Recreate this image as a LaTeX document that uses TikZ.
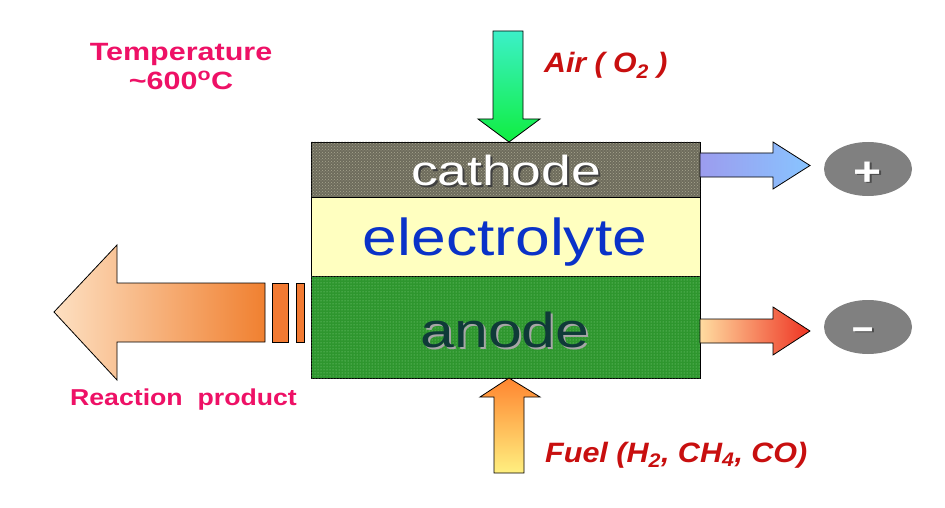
\documentclass[tikz,border=0pt]{standalone}
\usepackage{fontspec}
\usepackage{graphicx}
\setmainfont{Liberation Sans}
\usetikzlibrary{patterns,shapes.geometric}
\newcommand{\wide}[2][1.2]{\scalebox{#1}[1]{#2}}
\definecolor{cathodecol}{HTML}{6E6C5C}
\definecolor{cathodedot}{HTML}{A8A690}
\definecolor{anodecol}{HTML}{2E962E}
\definecolor{anodedot}{HTML}{8FD88F}
\definecolor{electrocol}{HTML}{FFFFC0}
\definecolor{electrotext}{HTML}{0A32C8}
\definecolor{anodetext}{HTML}{0F3A38}
\definecolor{pinktext}{HTML}{EE1166}
\definecolor{redtext}{HTML}{C80F0F}
\definecolor{aircyan}{HTML}{3CF0C8}
\definecolor{airgreen}{HTML}{10EE40}
\definecolor{fuelorange}{HTML}{FF8530}
\definecolor{fuelyellow}{HTML}{FFF080}
\definecolor{catleft}{HTML}{9C9CEE}
\definecolor{catright}{HTML}{88C4FF}
\definecolor{anleft}{HTML}{FFDCA0}
\definecolor{anright}{HTML}{EE3322}
\definecolor{prodleft}{HTML}{FDE0C2}
\definecolor{prodright}{HTML}{F08030}
\definecolor{barcol}{HTML}{F27A32}
\definecolor{polegray}{HTML}{808080}
\tikzset{
  layer/.style={draw=black, line width=0.9pt, inner sep=0pt, minimum width=389pt},
  flow/.style={draw=black, line width=0.8pt, line join=miter},
  pole/.style={ellipse, fill=polegray, minimum width=88pt, minimum height=54pt, inner sep=0pt},
  label/.style={inner sep=0pt, font=\bfseries\fontsize{25}{30}\selectfont, text=pinktext},
  feed/.style={inner sep=0pt, font=\bfseries\itshape\fontsize{28}{32}\selectfont, text=redtext},
  sign/.style={inner sep=0pt, anchor=base, font=\bfseries\fontsize{40}{44}\selectfont}
}
\begin{document}
\begin{tikzpicture}[x=1pt,y=-1pt]
\useasboundingbox (0,0) rectangle (945,508);
\fill[white] (0,0) rectangle (945,508);

% layers
\node[layer, fill=cathodecol, postaction={pattern=crosshatch dots, pattern color=cathodedot}, minimum height=55pt] (cathode) at (505.5,169.5) {};
\node[layer, fill=electrocol, minimum height=79pt] (electrolyte) at (505.5,236.5) {};
\node[layer, fill=anodecol, postaction={pattern=dots, pattern color=anodedot}, minimum height=102pt] (anode) at (505.5,327) {};

% layer texts
\node[inner sep=0pt, anchor=base, text=black!75, font=\fontsize{42}{46}\selectfont] (cathodeshadow) at (508,187) {\wide[1.27]{cathode}};
\node[inner sep=0pt, anchor=base, text=white, font=\fontsize{42}{46}\selectfont] (cathodetext) at (506,185) {\wide[1.27]{cathode}};
\node[inner sep=0pt, anchor=base, text=electrotext, font=\fontsize{52}{56}\selectfont] (electrotextnode) at (505,255) {\wide[1.2]{electrolyte}};
\node[inner sep=0pt, anchor=base, text=black!35, font=\fontsize{49}{54}\selectfont] (anodeshadow) at (507,349) {\wide[1.24]{anode}};
\node[inner sep=0pt, anchor=base, text=anodetext, font=\fontsize{49}{54}\selectfont] (anodetextnode) at (505,347) {\wide[1.24]{anode}};

% air arrow
\path[flow, top color=aircyan, bottom color=airgreen]
  (493,31) -- (523,31) -- (523,119) -- (540,119) -- (509,142) -- (478,119) -- (493,119) -- cycle;
% fuel arrow
\path[flow, top color=fuelorange, bottom color=fuelyellow]
  (494,473) -- (524,473) -- (524,397) -- (540,397) -- (509,378) -- (480,397) -- (494,397) -- cycle;

% cathode output arrow
\path[flow, left color=catleft, right color=catright]
  (700,153) -- (773,153) -- (773,142) -- (810,165.5) -- (773,189) -- (773,177) -- (700,177) -- cycle;
% anode output arrow
\path[flow, left color=anleft, right color=anright]
  (700,319) -- (773,319) -- (773,307) -- (810,331) -- (773,355) -- (773,343) -- (700,343) -- cycle;

% poles
\node[pole] (plus) at (868,169) {};
\node[sign, text=black!70] (plusshadow) at (870,186.5) {\wide{+}};
\node[sign, text=white] (plustext) at (868,185) {\wide{+}};
\node[pole] (minus) at (868,327) {};
\node[sign, text=black!70] (minusshadow) at (865,341.5) {\wide[0.95]{–}};
\node[sign, text=white] (minustext) at (863,340) {\wide[0.95]{–}};

% reaction product arrow
\path[flow, left color=prodleft, right color=prodright]
  (54,312) -- (117,245) -- (117,283) -- (265,283) -- (265,342) -- (117,342) -- (117,380) -- cycle;
\draw[flow, fill=barcol] (272,283) rectangle (288,342);
\draw[flow, fill=barcol] (296,283) rectangle (304,342);

% labels
\node[label, anchor=base] (temp1) at (181,61) {\wide[1.22]{Temperature}};
\node[label, anchor=base] (temp2) at (181,90) {\wide[1.22]{\textasciitilde600\textsuperscript{o}C}};
\node[label, anchor=base, font=\bfseries\fontsize{23}{28}\selectfont] (product) at (183.5,405) {\wide[1.16]{Reaction\ \ product}};
\node[feed, anchor=base west] (air) at (544,73) {\wide[1.08]{Air ( O\textsubscript{2} )}};
\node[feed, anchor=base west] (fuel) at (545,462) {\wide[1.09]{Fuel (H\textsubscript{2}, CH\textsubscript{4}, CO)}};
\end{tikzpicture}
\end{document}
